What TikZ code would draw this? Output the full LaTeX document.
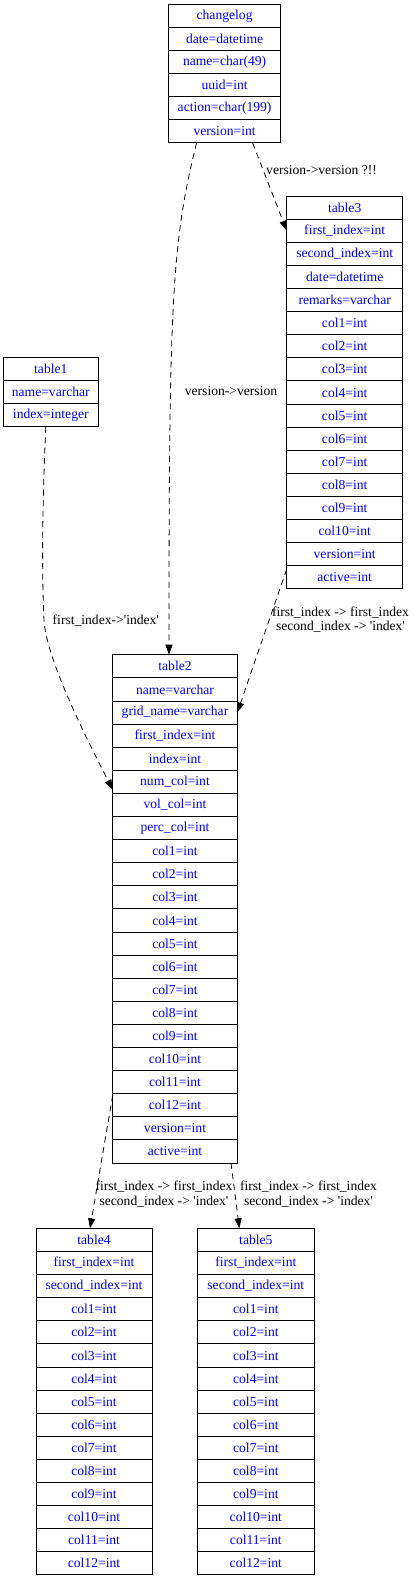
\documentclass[tikz,border=0pt]{standalone}
\usepackage{fontspec}
\setmainfont{Liberation Serif}
\usetikzlibrary{positioning,arrows.meta}
\definecolor{fieldblue}{rgb}{0,0,1}
\tikzset{
  field/.style={draw=black,line width=0.8pt,inner sep=0pt,outer sep=0pt,minimum height=23.1pt,text=fieldblue,font=\fontsize{13.6}{16}\selectfont},
  relation/.style={draw=black,line width=0.8pt,dash pattern=on 6pt off 4.5pt,-{Triangle[length=10pt,width=7pt]}},
  relationlabel/.style={font=\fontsize{13.6}{14.4}\selectfont,inner sep=0pt,align=center}
}

\begin{document}
\begin{tikzpicture}[x=1pt,y=-1pt]
\useasboundingbox (0,0) rectangle (414,1578);
% changelog
\node[field,minimum width=112.2pt] (cl1) at (224.6,15.85) {changelog};
\node[field,minimum width=112.2pt,below=0pt of cl1] (cl2) {date=datetime};
\node[field,minimum width=112.2pt,below=0pt of cl2] (cl3) {name=char(49)};
\node[field,minimum width=112.2pt,below=0pt of cl3] (cl4) {uuid=int};
\node[field,minimum width=112.2pt,below=0pt of cl4] (cl5) {action=char(199)};
\node[field,minimum width=112.2pt,below=0pt of cl5] (cl6) {version=int};
% table3
\node[field,minimum width=116pt] (t3r1) at (344.7,207.55) {table3};
\node[field,minimum width=116pt,below=0pt of t3r1] (t3r2) {first\_index=int};
\node[field,minimum width=116pt,below=0pt of t3r2] (t3r3) {second\_index=int};
\node[field,minimum width=116pt,below=0pt of t3r3] (t3r4) {date=datetime};
\node[field,minimum width=116pt,below=0pt of t3r4] (t3r5) {remarks=varchar};
\node[field,minimum width=116pt,below=0pt of t3r5] (t3r6) {col1=int};
\node[field,minimum width=116pt,below=0pt of t3r6] (t3r7) {col2=int};
\node[field,minimum width=116pt,below=0pt of t3r7] (t3r8) {col3=int};
\node[field,minimum width=116pt,below=0pt of t3r8] (t3r9) {col4=int};
\node[field,minimum width=116pt,below=0pt of t3r9] (t3r10) {col5=int};
\node[field,minimum width=116pt,below=0pt of t3r10] (t3r11) {col6=int};
\node[field,minimum width=116pt,below=0pt of t3r11] (t3r12) {col7=int};
\node[field,minimum width=116pt,below=0pt of t3r12] (t3r13) {col8=int};
\node[field,minimum width=116pt,below=0pt of t3r13] (t3r14) {col9=int};
\node[field,minimum width=116pt,below=0pt of t3r14] (t3r15) {col10=int};
\node[field,minimum width=116pt,below=0pt of t3r15] (t3r16) {version=int};
\node[field,minimum width=116pt,below=0pt of t3r16] (t3r17) {active=int};
% table1
\node[field,minimum width=95pt] (t1r1) at (50.8,368.85) {table1};
\node[field,minimum width=95pt,below=0pt of t1r1] (t1r2) {name=varchar};
\node[field,minimum width=95pt,below=0pt of t1r2] (t1r3) {index=integer};
% table2
\node[field,minimum width=124.6pt] (t2r1) at (175,666.25) {table2};
\node[field,minimum width=124.6pt,below=0pt of t2r1] (t2r2) {name=varchar};
\node[field,minimum width=124.6pt,below=0pt of t2r2] (t2r3) {grid\_name=varchar};
\node[field,minimum width=124.6pt,below=0pt of t2r3] (t2r4) {first\_index=int};
\node[field,minimum width=124.6pt,below=0pt of t2r4] (t2r5) {index=int};
\node[field,minimum width=124.6pt,below=0pt of t2r5] (t2r6) {num\_col=int};
\node[field,minimum width=124.6pt,below=0pt of t2r6] (t2r7) {vol\_col=int};
\node[field,minimum width=124.6pt,below=0pt of t2r7] (t2r8) {perc\_col=int};
\node[field,minimum width=124.6pt,below=0pt of t2r8] (t2r9) {col1=int};
\node[field,minimum width=124.6pt,below=0pt of t2r9] (t2r10) {col2=int};
\node[field,minimum width=124.6pt,below=0pt of t2r10] (t2r11) {col3=int};
\node[field,minimum width=124.6pt,below=0pt of t2r11] (t2r12) {col4=int};
\node[field,minimum width=124.6pt,below=0pt of t2r12] (t2r13) {col5=int};
\node[field,minimum width=124.6pt,below=0pt of t2r13] (t2r14) {col6=int};
\node[field,minimum width=124.6pt,below=0pt of t2r14] (t2r15) {col7=int};
\node[field,minimum width=124.6pt,below=0pt of t2r15] (t2r16) {col8=int};
\node[field,minimum width=124.6pt,below=0pt of t2r16] (t2r17) {col9=int};
\node[field,minimum width=124.6pt,below=0pt of t2r17] (t2r18) {col10=int};
\node[field,minimum width=124.6pt,below=0pt of t2r18] (t2r19) {col11=int};
\node[field,minimum width=124.6pt,below=0pt of t2r19] (t2r20) {col12=int};
\node[field,minimum width=124.6pt,below=0pt of t2r20] (t2r21) {version=int};
\node[field,minimum width=124.6pt,below=0pt of t2r21] (t2r22) {active=int};
% table4
\node[field,minimum width=116pt] (t4r1) at (94,1239.85) {table4};
\node[field,minimum width=116pt,below=0pt of t4r1] (t4r2) {first\_index=int};
\node[field,minimum width=116pt,below=0pt of t4r2] (t4r3) {second\_index=int};
\node[field,minimum width=116pt,below=0pt of t4r3] (t4r4) {col1=int};
\node[field,minimum width=116pt,below=0pt of t4r4] (t4r5) {col2=int};
\node[field,minimum width=116pt,below=0pt of t4r5] (t4r6) {col3=int};
\node[field,minimum width=116pt,below=0pt of t4r6] (t4r7) {col4=int};
\node[field,minimum width=116pt,below=0pt of t4r7] (t4r8) {col5=int};
\node[field,minimum width=116pt,below=0pt of t4r8] (t4r9) {col6=int};
\node[field,minimum width=116pt,below=0pt of t4r9] (t4r10) {col7=int};
\node[field,minimum width=116pt,below=0pt of t4r10] (t4r11) {col8=int};
\node[field,minimum width=116pt,below=0pt of t4r11] (t4r12) {col9=int};
\node[field,minimum width=116pt,below=0pt of t4r12] (t4r13) {col10=int};
\node[field,minimum width=116pt,below=0pt of t4r13] (t4r14) {col11=int};
\node[field,minimum width=116pt,below=0pt of t4r14] (t4r15) {col12=int};
% table5
\node[field,minimum width=116.3pt] (t5r1) at (255.85,1239.85) {table5};
\node[field,minimum width=116.3pt,below=0pt of t5r1] (t5r2) {first\_index=int};
\node[field,minimum width=116.3pt,below=0pt of t5r2] (t5r3) {second\_index=int};
\node[field,minimum width=116.3pt,below=0pt of t5r3] (t5r4) {col1=int};
\node[field,minimum width=116.3pt,below=0pt of t5r4] (t5r5) {col2=int};
\node[field,minimum width=116.3pt,below=0pt of t5r5] (t5r6) {col3=int};
\node[field,minimum width=116.3pt,below=0pt of t5r6] (t5r7) {col4=int};
\node[field,minimum width=116.3pt,below=0pt of t5r7] (t5r8) {col5=int};
\node[field,minimum width=116.3pt,below=0pt of t5r8] (t5r9) {col6=int};
\node[field,minimum width=116.3pt,below=0pt of t5r9] (t5r10) {col7=int};
\node[field,minimum width=116.3pt,below=0pt of t5r10] (t5r11) {col8=int};
\node[field,minimum width=116.3pt,below=0pt of t5r11] (t5r12) {col9=int};
\node[field,minimum width=116.3pt,below=0pt of t5r12] (t5r13) {col10=int};
\node[field,minimum width=116.3pt,below=0pt of t5r13] (t5r14) {col11=int};
\node[field,minimum width=116.3pt,below=0pt of t5r14] (t5r15) {col12=int};
% relations
\draw[relation] ([xshift=-28pt]cl6.south) .. controls +(-25,100) and +(0,-350) .. ([xshift=-6pt]t2r1.north);
\draw[relation] ([xshift=28pt]cl6.south) -- (t3r2.west);
\draw[relation] ([xshift=-5pt]t1r3.south) .. controls +(-4,90) and (42,580) .. (44,620) .. controls (46,660) and (90,745) .. ([yshift=-8pt]t2r6.west);
\draw[relation] ([yshift=8pt]t3r17.west) -- (t2r3.east);
\draw[relation] ([yshift=10pt]t2r20.west) -- ([xshift=-4pt]t4r1.north);
\draw[relation] ([xshift=56pt]t2r22.south) -- ([xshift=-16.5pt]t5r1.north);
% labels
\node[relationlabel,anchor=west] (lblclthree) at (266,170) {version->version ?!!};
\node[relationlabel] (lblcltwo) at (231,391) {version->version};
\node[relationlabel,anchor=west] (lblonetwo) at (52.5,620.5) {first\_index->\textquotesingle index\textquotesingle};
\node[relationlabel] (lblthreetwo) at (340.5,619.5) {first\_index -> first\_index\\second\_index -> \textquotesingle index\textquotesingle};
\node[relationlabel] (lbltwofour) at (164,1194) {first\_index -> first\_index\\second\_index -> \textquotesingle index\textquotesingle};
\node[relationlabel] (lbltwofive) at (308.5,1194) {first\_index -> first\_index\\second\_index -> \textquotesingle index\textquotesingle};
\end{tikzpicture}
\end{document}
